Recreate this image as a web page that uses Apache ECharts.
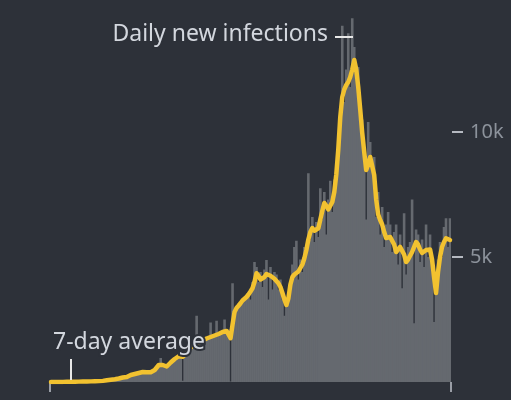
<!DOCTYPE html>
<html><head><meta charset="utf-8">
<script src="https://cdn.jsdelivr.net/npm/echarts@6/dist/echarts.min.js"></script>
<style>html,body{margin:0;padding:0;background:#2d3139}#c{width:511px;height:400px}</style>
</head><body><div id="c"></div>
<script>
// Daily new infections (one value per day)
const dailyCases = [
0,0,0,0,0,10,0,10,0,10,
10,0,20,10,20,10,20,30,10,30,
20,30,30,40,30,50,40,60,80,70,
100,90,120,110,150,170,200,180,210,260,
300,280,340,330,380,370,420,390,380,370,
400,410,460,620,700,960,640,600,580,700,
820,880,900,1000,1060,1020,50,1080,1200,1300,
1420,1480,1500,2650,1580,1600,1650,1720,1750,1760,
2380,1820,1850,2450,1900,1950,2000,2500,2050,2100,
20,3950,2850,2950,3100,3200,3300,3350,3450,3500,
3300,4000,4800,4600,4000,4400,3800,4500,4880,3300,
4600,3700,4400,4300,3700,4100,3300,2650,3300,3100,
3600,4700,5400,5650,4100,4900,4400,5400,5000,8350,
5700,6600,5600,6400,5800,7750,6500,7600,5900,7300,
8050,6800,8100,7900,9800,10200,14250,11200,12500,13950,
11800,14550,13400,12100,12600,10400,10500,8800,6500,10400,
9600,8400,9000,6600,7600,5900,7000,5400,6300,6800,
6300,5200,6000,6300,4700,5900,3750,6750,4300,5400,
5600,7300,2350,6100,5900,4800,5700,4600,6300,5000,
5900,4500,2400,3600,4900,5600,5000,6200,6550,5400,6550
];
// 7-day average
const avg7 = [
0,0,0,0,5,5,5,5,10,10,
10,10,10,15,15,15,20,20,20,20,
25,25,30,30,35,40,45,55,70,80,
90,100,110,120,140,160,180,190,200,240,
280,300,320,340,360,380,400,400,390,380,
390,420,480,580,680,720,680,610,620,680,
780,860,920,990,1030,1040,1010,1050,1150,1270,
1380,1460,1510,1560,1590,1620,1660,1700,1740,1770,
1800,1830,1860,1880,1920,1970,2000,2020,2040,2060,
1750,2300,2800,2960,3050,3150,3260,3330,3400,3500,
3620,3750,4000,4350,4250,4100,4080,4200,4320,4300,
4250,4200,4130,4080,3950,3800,3560,3300,3080,3350,
3900,4200,4300,4380,4420,4500,4700,4950,5280,5700,
6000,6160,6050,5980,6150,6500,6850,7160,7050,6900,
6880,7200,7600,8300,9300,10600,11400,11700,11880,12000,
12200,12500,12880,12500,11800,10900,9960,9200,8480,8700,
9000,9080,8280,7300,6700,6480,6300,6000,5760,5780,
5800,5790,5500,5200,5300,5400,5400,5100,4800,4900,
5050,5200,5400,5600,5500,5300,5160,5200,5280,5320,
5300,4900,4200,3560,4400,5000,5400,5600,5750,5800,5680
];
const days = dailyCases.map((_, i) => i);
const yTickValues = [5000, 10000];
const yTickLabels = ['5k', '10k'];
const seriesNames = ['Daily new infections', '7-day average'];

const BG = '#2d3139';
const chart = echarts.init(document.getElementById('c'));
chart.setOption({
  backgroundColor: BG,
  animation: false,
  textStyle: { fontFamily: 'Noto Sans' },
  grid: { left: 50, right: 60, top: 7, bottom: 18, containLabel: false },
  xAxis: [
    { type: 'category', data: days, boundaryGap: true,
      axisLine: { show: false }, axisTick: { show: false }, axisLabel: { show: false } },
    { type: 'value', min: 0, max: 1, interval: 1, position: 'bottom',
      axisLine: { show: false }, splitLine: { show: false },
      axisTick: { show: true, length: 10, lineStyle: { color: '#9a9ea6', width: 2 } },
      axisLabel: { show: false } }
  ],
  yAxis: {
    type: 'value', position: 'right', min: 0, max: 15000, interval: 5000,
    splitLine: { show: false }, axisLine: { show: false }, axisTick: { show: false },
    axisLabel: { show: true, margin: 1,
      formatter: v => { const k = yTickValues.indexOf(v); return k >= 0 ? '{d| }{t|' + yTickLabels[k] + '}' : ''; },
      rich: {
        d: { width: 11, height: 2, backgroundColor: '#b5b9c1', padding: 0 },
        t: { color: '#8c929b', fontSize: 20, fontFamily: 'Noto Sans', padding: [0, 0, 0, 7] }
      } }
  },
  series: [
    { name: seriesNames[0], type: 'bar', data: dailyCases, barWidth: 2.6, barGap: '-100%',
      itemStyle: { color: '#65696f' }, z: 1, silent: true },
    { name: seriesNames[1], type: 'line', data: avg7, showSymbol: false, smooth: false, z: 3,
      lineStyle: { color: '#f2c230', width: 4.5, cap: 'round', join: 'round' }, silent: true }
  ],
  graphic: [
    { type: 'text', z: 10, style: { text: seriesNames[0], x: 328, y: 34, align: 'right', verticalAlign: 'middle',
        font: '23px "Noto Sans"', fill: '#d3d7de', stroke: BG, lineWidth: 4, strokeFirst: true } },
    { type: 'line', z: 10, shape: { x1: 335, y1: 37, x2: 353, y2: 37 }, style: { stroke: '#e8e8e8', lineWidth: 2 } },
    { type: 'text', z: 10, style: { text: seriesNames[1], x: 53, y: 342, align: 'left', verticalAlign: 'middle',
        font: '23px "Noto Sans"', fill: '#d3d7de', stroke: BG, lineWidth: 4, strokeFirst: true } },
    { type: 'line', z: 10, shape: { x1: 71, y1: 359, x2: 71, y2: 380 }, style: { stroke: '#e8e8e8', lineWidth: 2 } }
  ]
});
</script></body></html>
